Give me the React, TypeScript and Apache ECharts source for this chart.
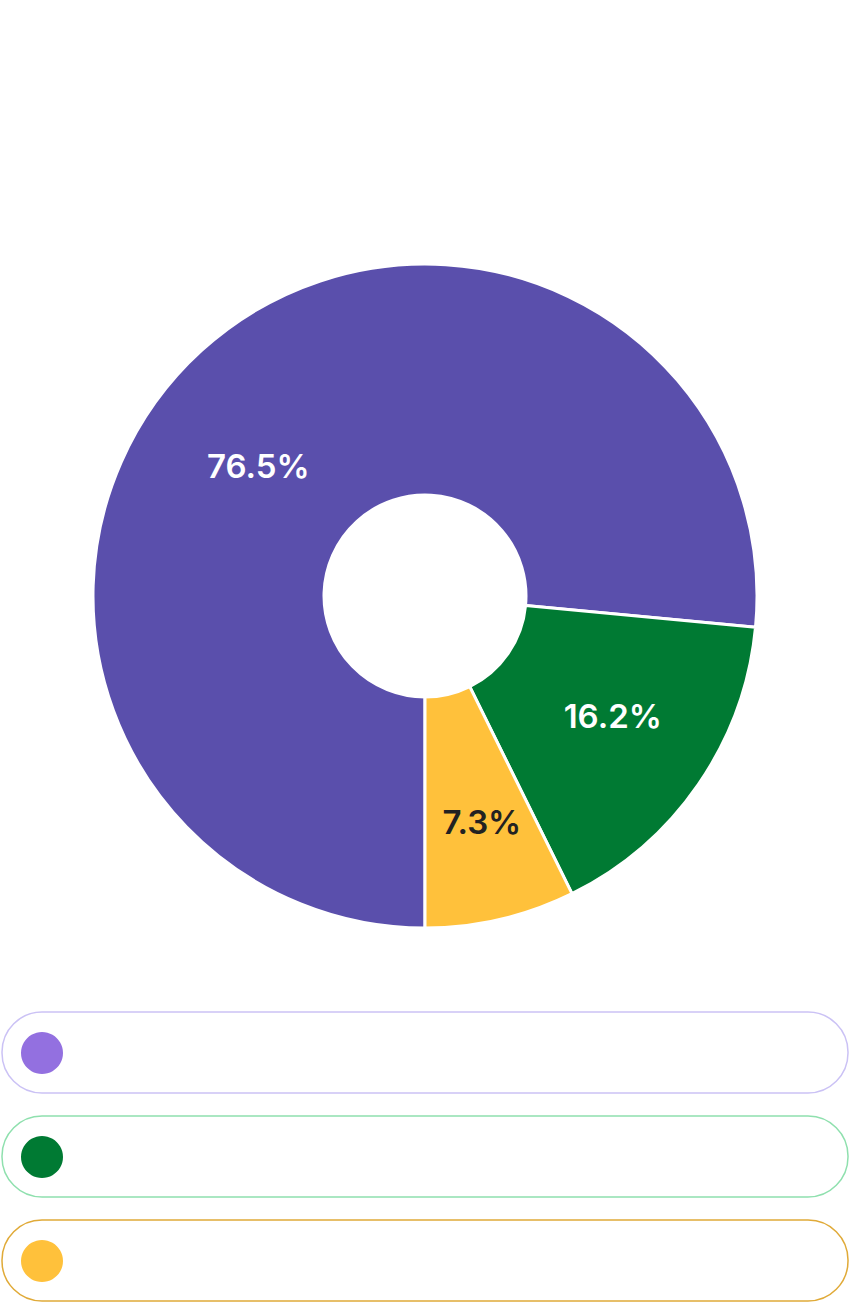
import React, { useEffect, useRef } from "react";
import * as echarts from "echarts";

const title = "H2 2024";
const categories = ["Remote", "Hybrid", "Office"];
const values = [76.5, 16.2, 7.3];
const sliceColors = ["#5a4fac", "#007a33", "#ffc13b"];
const labelColors = ["#ffffff", "#ffffff", "#222222"];
const labelOffsets = [[-19, 32], [7, -5], [7, 12]];
const dotColors = ["#9370e0", "#007a33", "#ffc13b"];
const pillBorders = ["#cbc2f5", "#8fe0ae", "#e0aa38"];

export default function App() {
  const ref = useRef<HTMLDivElement>(null);
  useEffect(() => {
    document.body.style.margin = "0";
    const chart = echarts.init(ref.current!, undefined, { renderer: "svg" });
    const font = "Inter, 'Noto Sans', sans-serif";
    const pills: any[] = [];
    categories.forEach((c, i) => {
      const y = 1012 + i * 104;
      pills.push({
        type: "rect",
        shape: { x: 2, y, width: 846, height: 81, r: 40 },
        style: { fill: "#ffffff", stroke: pillBorders[i], lineWidth: 1.5 },
      });
      pills.push({
        type: "circle",
        shape: { cx: 42, cy: y + 41, r: 21 },
        style: { fill: dotColors[i] },
      });
      pills.push({
        type: "text",
        x: 88,
        y: y + 41,
        style: {
          text: `${c} - ${values[i]}%`,
          fill: "#ffffff",
          font: `bold 34px ${font}`,
          verticalAlign: "middle",
        },
      });
    });
    chart.setOption({
      animation: false,
      backgroundColor: "#ffffff",
      title: {
        text: title,
        left: "center",
        top: 30,
        textStyle: { color: "#ffffff", fontSize: 116, fontWeight: 800, fontFamily: font },
      },
      series: [
        {
          type: "pie",
          center: [425, 596],
          radius: [101, 332],
          startAngle: -90,
          clockwise: true,
          itemStyle: { borderColor: "#ffffff", borderWidth: 3 },
          label: {
            show: true,
            position: "inside",
            formatter: "{c}%",
            fontSize: 33,
            fontWeight: 600,
            fontFamily: font,
          },
          labelLine: { show: false },
          emphasis: { disabled: true },
          data: categories.map((c, i) => ({
            name: c,
            value: values[i],
            itemStyle: { color: sliceColors[i] },
            label: { color: labelColors[i], offset: labelOffsets[i] },
          })),
        },
      ],
      graphic: pills,
    });
    return () => chart.dispose();
  }, []);
  return <div ref={ref} style={{ width: 849, height: 1302 }} />;
}
